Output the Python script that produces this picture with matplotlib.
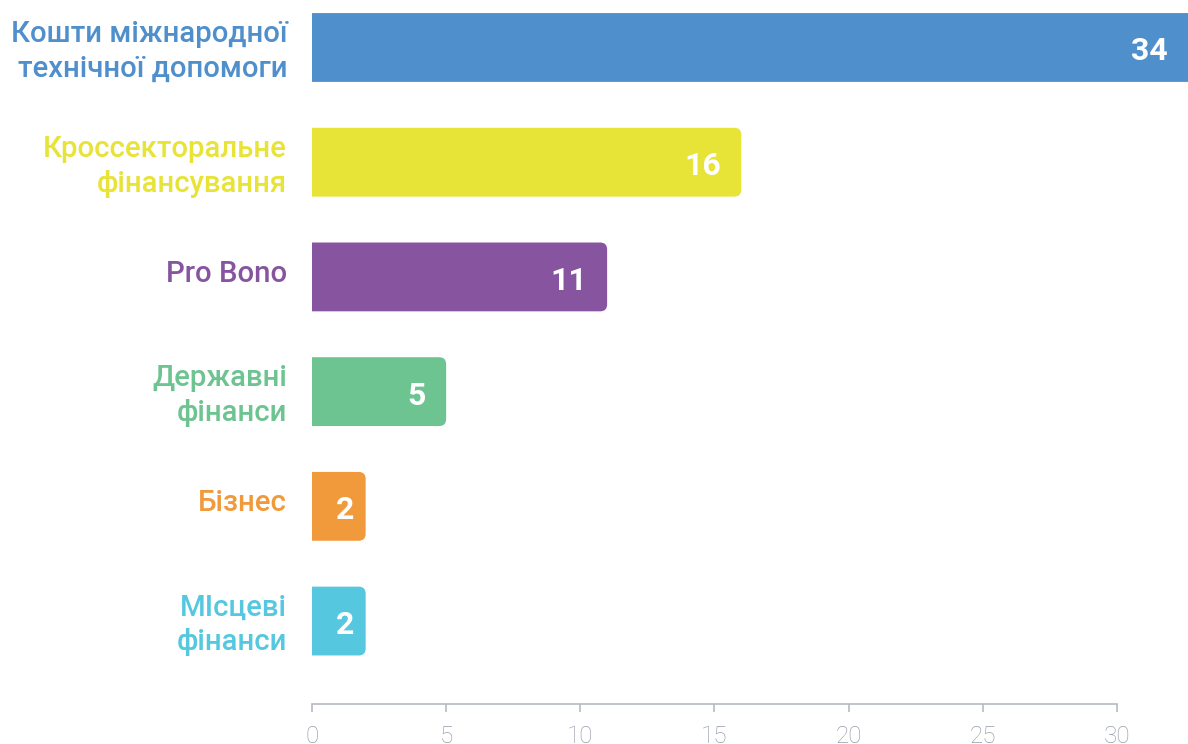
import matplotlib.pyplot as plt
from matplotlib.patches import PathPatch
from matplotlib.path import Path

plt.rcParams['font.family'] = ['Roboto', 'DejaVu Sans']

categories = [
    "Кошти міжнародної\nтехнічної допомоги",
    "Кроссекторальне\nфінансування",
    "Pro Bono",
    "Державні\nфінанси",
    "Бізнес",
    "МІсцеві\nфінанси",
]
values = [34, 16, 11, 5, 2, 2]
colors = ["#4f8fcc", "#e8e337", "#8755a0", "#6dc491", "#f09a3b", "#55c8e0"]
xticks = [0, 5, 10, 15, 20, 25, 30]

AXIS_GRAY = "#b5bac4"
TICK_GRAY = "#979daa"

fig = plt.figure(figsize=(11.88, 7.44), dpi=100)
ax = fig.add_axes([312 / 1188, 40 / 744, 1 - 312 / 1188, 704 / 744])

xmax = 32.65
ymin, ymax = 5.723, -0.414
ax.set_xlim(0, xmax)
ax.set_ylim(ymin, ymax)

ypos = list(range(len(values)))
bars = ax.barh(ypos, values, height=0.6, color=colors)

# size of one pixel in data units, so the rounded corners stay circular
fig_w, fig_h = fig.get_size_inches() * fig.dpi
bb = ax.get_position()
px_x = xmax / (bb.width * fig_w)
px_y = (ymin - ymax) / (bb.height * fig_h)
rx, ry = 7 * px_x, 7 * px_y


def rounded_right(x0, y0, w, h):
    x1, y1 = x0 + w, y0 + h
    verts = [(x0, y0), (x1 - rx, y0), (x1, y0), (x1, y0 + ry),
             (x1, y1 - ry), (x1, y1), (x1 - rx, y1), (x0, y1), (x0, y0)]
    codes = [Path.MOVETO, Path.LINETO, Path.CURVE3, Path.CURVE3,
             Path.LINETO, Path.CURVE3, Path.CURVE3, Path.LINETO, Path.CLOSEPOLY]
    return Path(verts, codes)


for bar, color in zip(bars, colors):
    bar.set_visible(False)
    path = rounded_right(bar.get_x(), bar.get_y(), bar.get_width(), bar.get_height())
    ax.add_patch(PathPatch(path, facecolor=color, edgecolor="none"))

# value labels inside the bar ends
for y, v in zip(ypos, values):
    end = min(v, xmax)
    pad = 20 * px_x if v > 3 else 11 * px_x
    ax.text(end - pad, y + 1 * px_y, str(v), ha="right", va="center_baseline",
            color="white", fontsize=23, fontweight="bold")

# category labels coloured like the bars
for y, label, color in zip(ypos, categories, colors):
    shift = 4 if "\n" in label else -3
    ax.text(-25 * px_x, y + shift * px_y, label, ha="right", va="center",
            color=color, fontsize=21.2, fontweight="medium", linespacing=1.3,
            clip_on=False)

ax.set_yticks([])
ax.set_xticks(xticks)
ax.set_xticklabels([str(t) for t in xticks], fontsize=17.5, color=TICK_GRAY,
                   fontweight="light")
ax.tick_params(axis="x", length=6, width=1.2, color=AXIS_GRAY, pad=9)

for side in ["top", "right", "left"]:
    ax.spines[side].set_visible(False)
ax.spines["bottom"].set_color(AXIS_GRAY)
ax.spines["bottom"].set_linewidth(1.2)
ax.spines["bottom"].set_bounds(0, 30)

fig.savefig("out.png", dpi=100)
